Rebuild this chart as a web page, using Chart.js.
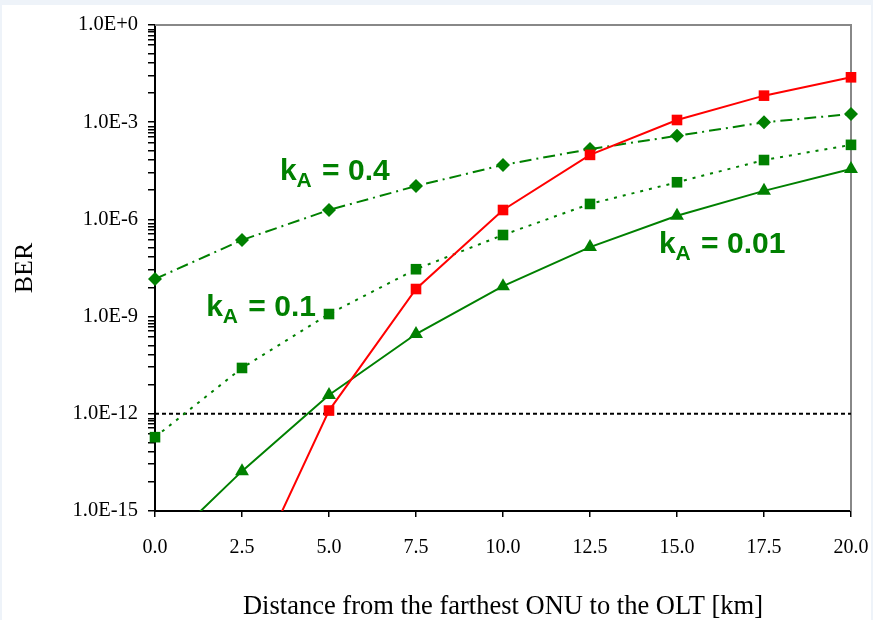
<!DOCTYPE html>
<html>
<head>
<meta charset="utf-8">
<script src="https://cdn.jsdelivr.net/npm/chart.js@4/dist/chart.umd.min.js"></script>
<style>
  body { margin: 0; background: #eef3f9; }
  #panel { position: absolute; left: 2px; top: 5px; width: 869px; height: 615px; background: #fff; }
  #berChart { position: absolute; left: 0; top: 0; }
</style>
</head>
<body>
<div id="panel"></div>
<canvas id="berChart" width="873" height="620"></canvas>
<script>
// distance from the farthest ONU [km]
const distances = [0, 2.5, 5, 7.5, 10, 12.5, 15, 17.5, 20];

// BER values
const berRed = [null, 2.2e-18, 1.26e-12, 7.1e-9, 1.95e-6, 9.8e-5, 1.17e-3, 6.6e-3, 2.43e-2];
const berK04 = [1.45e-8, 2.3e-7, 1.95e-6, 1.07e-5, 4.8e-5, 1.48e-4, 3.8e-4, 9.9e-4, 1.79e-3];
const berK01 = [1.9e-13, 2.6e-11, 1.2e-9, 2.9e-8, 3.3e-7, 3.0e-6, 1.4e-5, 6.8e-5, 2.0e-4];
const berK001 = [4.4e-17, 1.7e-14, 3.8e-12, 2.9e-10, 8.7e-9, 1.4e-7, 1.3e-6, 7.6e-6, 3.6e-5];
const berLimit = 1e-12;

// y axis ticks
const yMajorTicks = [1, 1e-3, 1e-6, 1e-9, 1e-12, 1e-15];
const yMinorFactors = [0.72, 0.6, 0.48, 0.36, 0.24, 0.13, 0.068, 0.028, 0.008];

// curve labels: [main, subscript, rest, x, y]
const curveLabels = [
  ['k', 'A', ' = 0.4', 3.59, Math.pow(10, -4.78)],
  ['k', 'A', ' = 0.1', 1.47, Math.pow(10, -8.98)],
  ['k', 'A', ' = 0.01', 14.48, Math.pow(10, -7.04)]
];

const GREEN = '#008000';
const RED = '#ff0000';
const serif = '"Liberation Serif", "Times New Roman", serif';

function toPoints(values) {
    return distances.map((d, i) => ({ x: d, y: values[i] }));
}

function fmtSci(v) {
    const e = Math.round(Math.log10(v));
    return '1.0E' + (e >= 0 ? '+' + e : e);
}

const edgeClip = { left: 10, right: 10, top: 10, bottom: 0 };

const frame = {
    id: 'frame',
    beforeDatasetsDraw(chart) {
        const { ctx, chartArea: a } = chart;
        ctx.save();
        ctx.strokeStyle = '#888888';
        ctx.lineWidth = 2;
        ctx.beginPath();
        ctx.moveTo(a.left, a.top);
        ctx.lineTo(a.right, a.top);
        ctx.lineTo(a.right, a.bottom);
        ctx.stroke();
        ctx.restore();
    }
};

const curveText = {
    id: 'curveText',
    afterDatasetsDraw(chart) {
        const { ctx } = chart;
        const xs = chart.scales.x, ys = chart.scales.y;
        ctx.save();
        ctx.fillStyle = GREEN;
        ctx.textBaseline = 'alphabetic';
        ctx.textAlign = 'left';
        curveLabels.forEach(([main, sub, rest, x, y]) => {
            let px = xs.getPixelForValue(x);
            const py = ys.getPixelForValue(y);
            ctx.font = 'bold 30px "Liberation Sans", Arial, sans-serif';
            ctx.fillText(main, px, py);
            px += ctx.measureText(main).width;
            ctx.font = 'bold 21px "Liberation Sans", Arial, sans-serif';
            ctx.fillText(sub, px, py + 7);
            px += ctx.measureText(sub).width + 2;
            ctx.font = 'bold 30px "Liberation Sans", Arial, sans-serif';
            ctx.fillText(rest, px, py);
        });
        ctx.restore();
    }
};

const ctx = document.getElementById('berChart').getContext('2d');
new Chart(ctx, {
    type: 'line',
    data: {
        datasets: [
            {
                label: 'red',
                data: toPoints(berRed),
                borderColor: RED,
                backgroundColor: RED,
                borderWidth: 2,
                pointStyle: 'rect',
                pointRadius: 7.5,
                pointBorderWidth: 0,
                clip: edgeClip,
                order: 1
            },
            {
                label: 'kA = 0.4',
                data: toPoints(berK04),
                borderColor: GREEN,
                backgroundColor: GREEN,
                borderWidth: 2,
                borderDash: [12, 5, 2, 5],
                pointStyle: 'rectRot',
                pointRadius: 7,
                pointBorderWidth: 0,
                clip: edgeClip,
                order: 2
            },
            {
                label: 'kA = 0.1',
                data: toPoints(berK01),
                borderColor: GREEN,
                backgroundColor: GREEN,
                borderWidth: 2,
                borderDash: [3, 6],
                pointStyle: 'rect',
                pointRadius: 7.5,
                pointBorderWidth: 0,
                clip: edgeClip,
                order: 3
            },
            {
                label: 'kA = 0.01',
                data: toPoints(berK001),
                borderColor: GREEN,
                backgroundColor: GREEN,
                borderWidth: 2,
                pointStyle: 'triangle',
                pointRadius: 8,
                pointBorderWidth: 0,
                clip: edgeClip,
                order: 4
            },
            {
                label: 'limit',
                data: [{ x: distances[0], y: berLimit }, { x: distances[distances.length - 1], y: berLimit }],
                borderColor: '#000',
                borderWidth: 2,
                borderDash: [4, 3],
                pointRadius: 0,
                order: 10
            }
        ]
    },
    options: {
        responsive: false,
        animation: false,
        layout: { padding: { top: 25, right: 22, left: 0, bottom: 0 } },
        plugins: {
            legend: { display: false },
            tooltip: { enabled: false }
        },
        scales: {
            x: {
                type: 'linear',
                min: 0,
                max: 20,
                afterFit: s => {
                    s.height = 109;
                    s.paddingLeft = 0;
                    s.paddingRight = 0;
                },
                afterBuildTicks: s => {
                    s.ticks = distances.map(v => ({ value: v }));
                },
                ticks: {
                    padding: 19,
                    color: '#000',
                    font: { family: serif, size: 20 },
                    callback: v => Number(v).toFixed(1)
                },
                grid: { drawOnChartArea: false, tickLength: 6, color: '#000', lineWidth: 1.5 },
                border: { color: '#000', width: 2 },
                title: {
                    display: true,
                    text: 'Distance from the farthest ONU to the OLT [km]',
                    color: '#000',
                    font: { family: serif, size: 26.5, lineHeight: 1 },
                    padding: { top: 0, bottom: 0 }
                }
            },
            y: {
                type: 'logarithmic',
                min: 1e-15,
                max: 1,
                afterFit: s => { s.width = 155; },
                afterBuildTicks: s => {
                    const t = [];
                    yMajorTicks.forEach((m, i) => {
                        t.push({ value: m, major: true });
                        if (i < yMajorTicks.length - 1) {
                            yMinorFactors.forEach(f => t.push({ value: m * f }));
                        }
                    });
                    s.ticks = t;
                },
                ticks: {
                    padding: 10,
                    color: '#000',
                    autoSkip: false,
                    font: { family: serif, size: 20.5 },
                    callback: (v) => {
                        const isMajor = yMajorTicks.some(m => Math.abs(Math.log10(v) - Math.log10(m)) < 1e-6);
                        return isMajor ? fmtSci(v) : '';
                    }
                },
                grid: { drawOnChartArea: false, tickLength: 7, color: '#000', lineWidth: 1.5 },
                border: { color: '#000', width: 2 },
                title: {
                    display: true,
                    text: 'BER',
                    color: '#000',
                    font: { family: serif, size: 26, lineHeight: 1 },
                    padding: { top: 12, bottom: 0 }
                }
            }
        }
    },
    plugins: [frame, curveText]
});
</script>
</body>
</html>
